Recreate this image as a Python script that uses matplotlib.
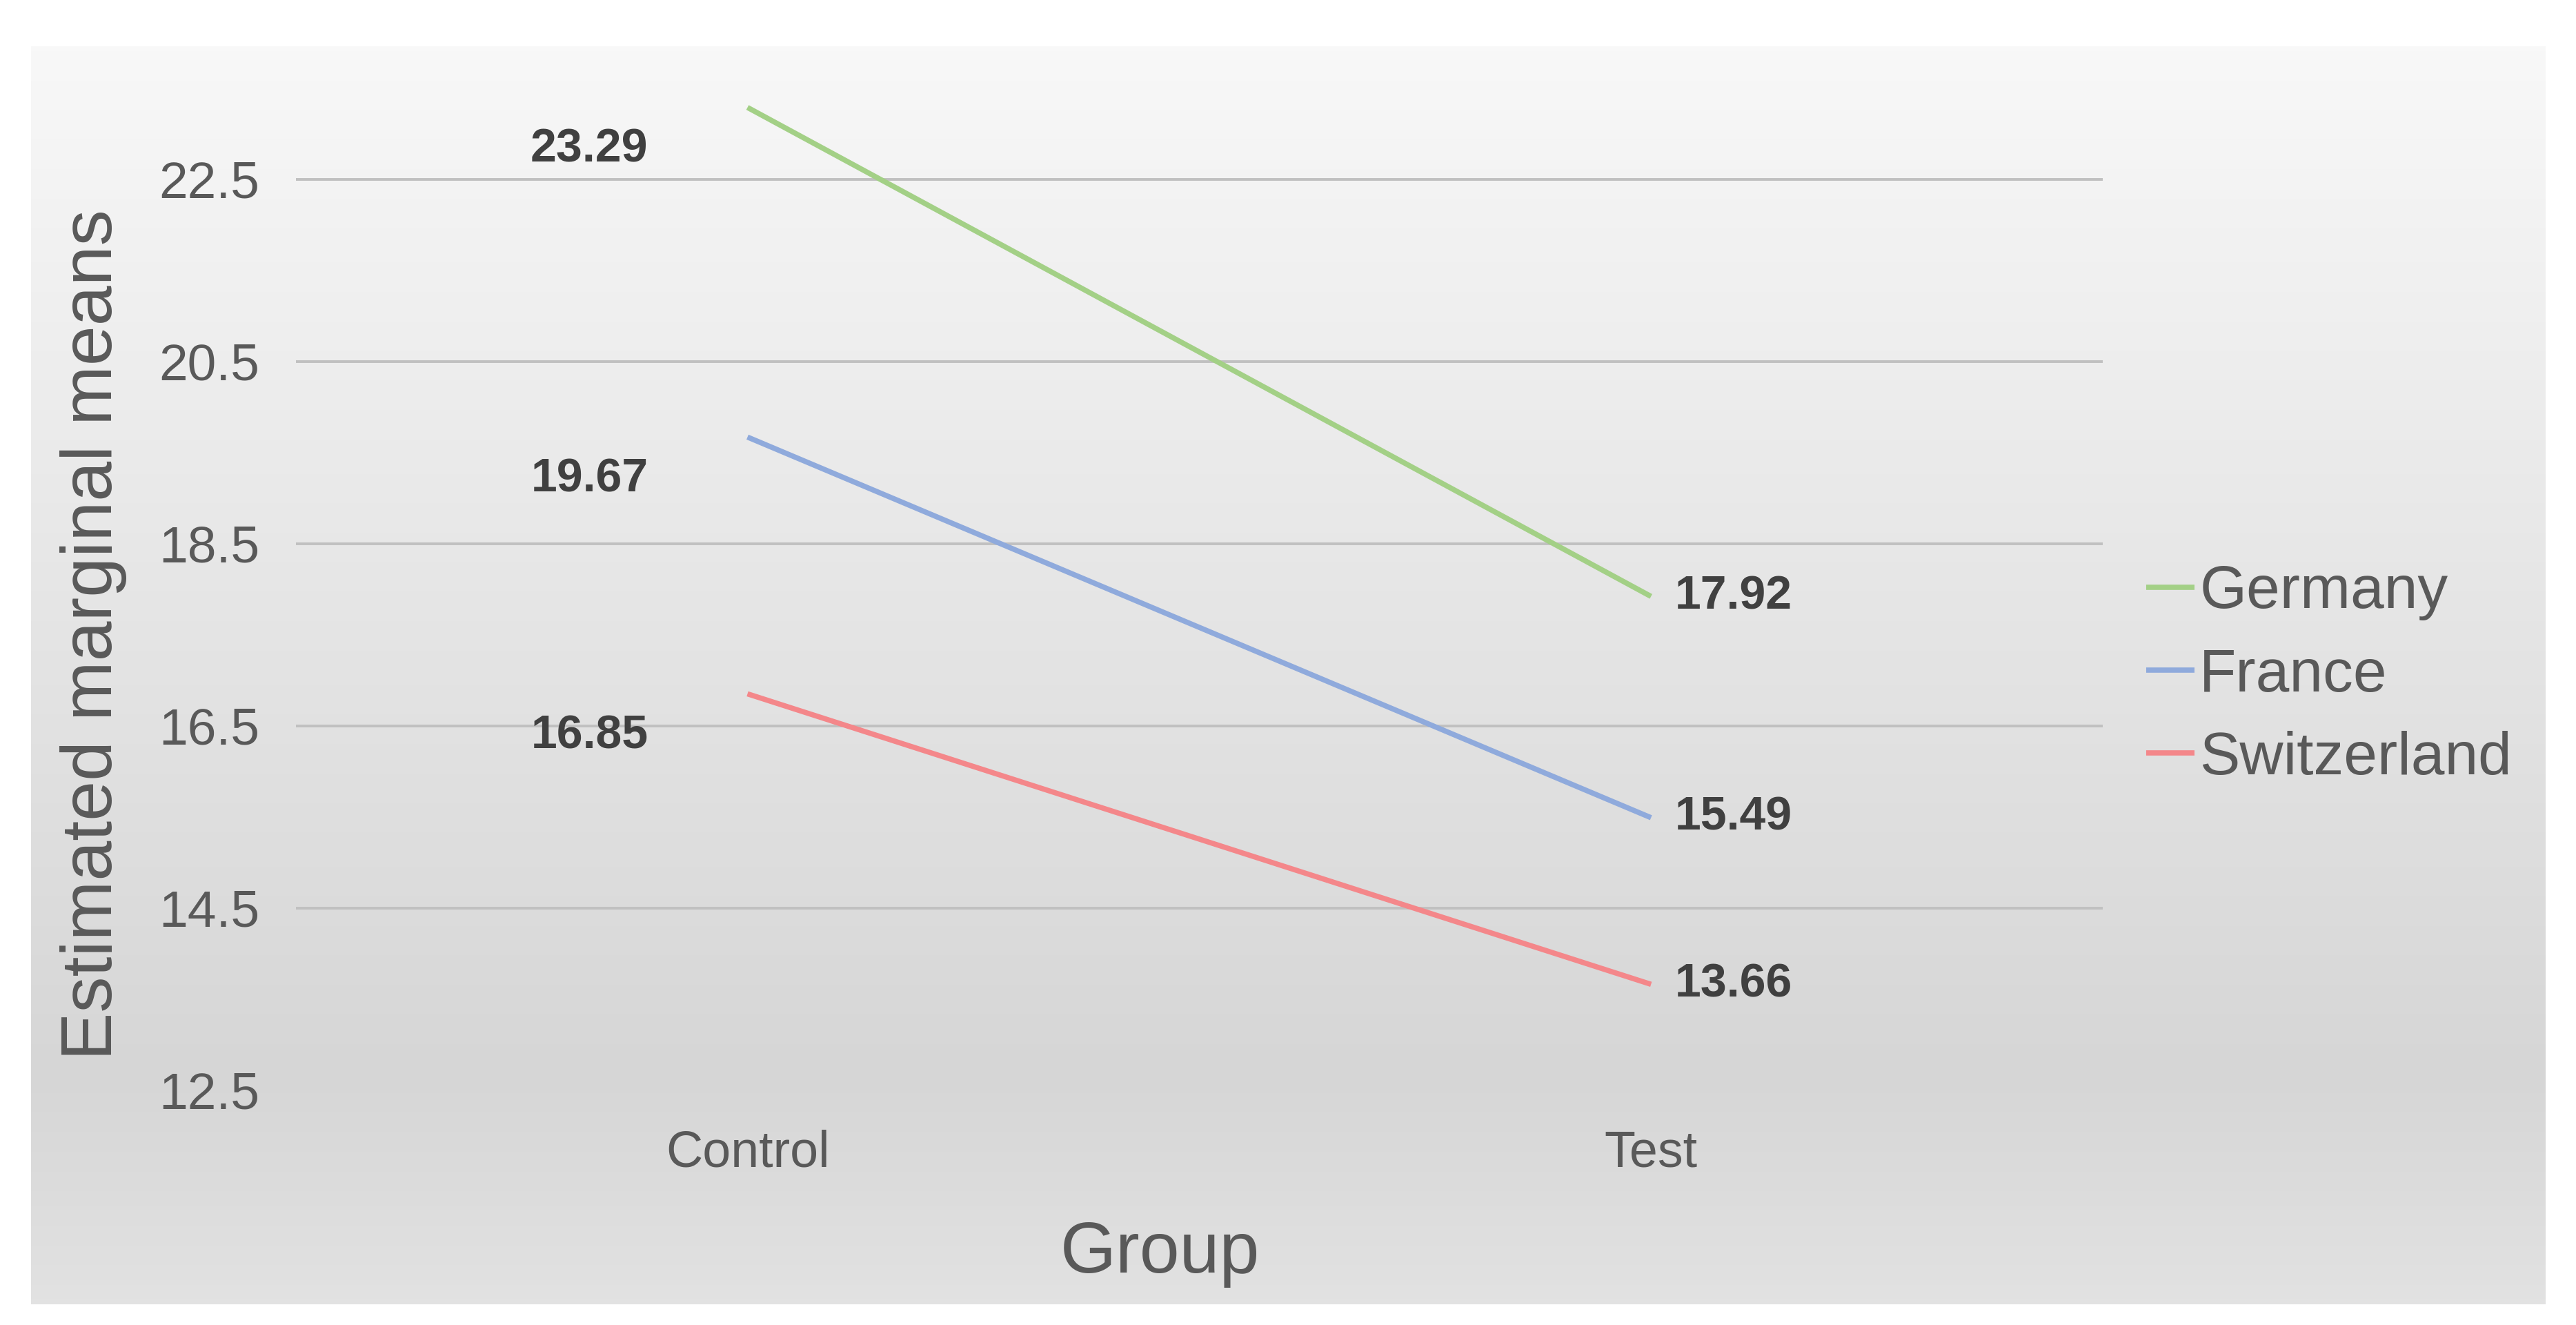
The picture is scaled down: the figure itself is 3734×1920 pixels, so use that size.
import numpy as np
import matplotlib.pyplot as plt
from matplotlib.colors import LinearSegmentedColormap

plt.rcParams['font.family'] = ['Liberation Sans', 'DejaVu Sans']

groups = ['Control', 'Test']
countries = ['Germany', 'France', 'Switzerland']
means = {
    'Germany': [23.29, 17.92],
    'France': [19.67, 15.49],
    'Switzerland': [16.85, 13.66],
}
colors = {'Germany': '#a3d086', 'France': '#8faadc', 'Switzerland': '#f4878a'}
yticks = [12.5, 14.5, 16.5, 18.5, 20.5, 22.5]

fig = plt.figure(figsize=(37.34, 19.2), dpi=100)

# chart area background: vertical gray gradient
bg = fig.add_axes([0.012, 0.0156, 0.976, 0.9494], zorder=-1)
cmap = LinearSegmentedColormap.from_list(
    'bg', [(0.0, '#e2e2e2'), (0.18, '#d6d6d6'), (1.0, '#f8f8f8')])
bg.imshow(np.linspace(0, 1, 256).reshape(-1, 1), aspect='auto', cmap=cmap,
          origin='lower', extent=[0, 1, 0, 1])
bg.axis('off')

ax = fig.add_axes([0.1148, 0.1774, 0.7015, 0.7903])
ax.set_facecolor('none')
x = np.arange(len(groups))
for c in countries:
    ax.plot(x, means[c], color=colors[c], lw=5.5, label=c, solid_capstyle='butt')
    ax.annotate(f'{means[c][0]:.2f}', (x[0], means[c][0]), xytext=(-165, -44),
                textcoords='offset points', ha='center', va='center',
                fontsize=49, fontweight='bold', color='#404040')
    ax.annotate(f'{means[c][1]:.2f}', (x[1], means[c][1]), xytext=(25, 0),
                textcoords='offset points', ha='left', va='center',
                fontsize=49, fontweight='bold', color='#404040')

ax.set_xlim(-0.5, 1.5)
ax.set_ylim(12.5, 24.0)
ax.set_yticks(yticks)
ax.set_yticklabels([f'{t:.1f}' for t in yticks])
ax.set_xticks(x)
ax.set_xticklabels(groups)
ax.tick_params(axis='y', length=0, pad=38, labelsize=54, labelcolor='#595959')
ax.tick_params(axis='x', length=0, pad=41, labelsize=53, labelcolor='#595959')
for t in yticks[1:]:
    ax.axhline(t, color='#c0c0c0', lw=2.8, zorder=0)
for s in ax.spines.values():
    s.set_visible(False)

fig.text(0.0363, 0.521, 'Estimated marginal means', rotation=90,
         ha='center', va='center', fontsize=75, color='#595959')
fig.text(0.4503, 0.0536, 'Group', ha='center', va='center',
         fontsize=75, color='#595959')

fig.legend(loc='center left', bbox_to_anchor=(0.8215, 0.49), frameon=False,
           fontsize=63, handlelength=0.8, handletextpad=0.08, labelspacing=0.45,
           borderpad=0, labelcolor='#595959')

fig.savefig('out.png', dpi=100)
